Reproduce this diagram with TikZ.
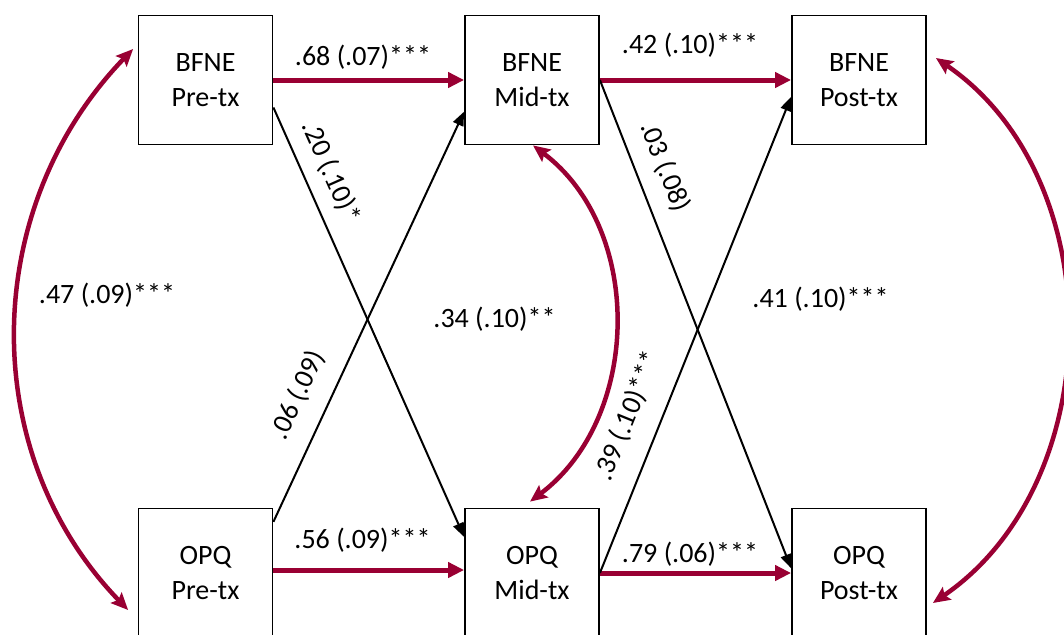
\documentclass[tikz,border=0pt]{standalone}
\usepackage{fontspec}
\setmainfont{Carlito}
\usetikzlibrary{arrows.meta}
\definecolor{wine}{RGB}{153,0,51}
\begin{document}
\begin{tikzpicture}[x=1pt,y=-1pt,
  box/.style={draw, line width=1.8pt, minimum width=134pt, minimum height=129pt, align=center,
    font=\fontsize{28}{35}\selectfont, inner sep=0pt},
  lab/.style={font=\fontsize{28}{34}\selectfont, inner sep=0pt},
  regpath/.style={color=wine, line width=5pt, -{Triangle[length=16pt,width=15pt]}},
  crosspath/.style={color=black, line width=2pt, -{Triangle[length=14pt,width=11pt]}},
  covpath/.style={color=wine, line width=4.5pt,
    {Stealth[length=17pt,width=15pt,inset=3pt]}-{Stealth[length=17pt,width=15pt,inset=3pt]}}
]
\useasboundingbox (0,0) rectangle (1064,634);
\clip (0,0) rectangle (1064,634);
\fill[white] (0,0) rectangle (1064,634);

% boxes
\node[box] (bpre)  at (205.5,80)  {BFNE\\Pre-tx};
\node[box] (bmid)  at (532,80)    {BFNE\\Mid-tx};
\node[box] (bpost) at (859,80)    {BFNE\\Post-tx};
\node[box] (opre)  at (205.5,573) {OPQ\\Pre-tx};
\node[box] (omid)  at (532,573)   {OPQ\\Mid-tx};
\node[box] (opost) at (859,573)   {OPQ\\Post-tx};

% autoregressive paths
\draw[regpath] (bpre.east) -- (bmid.west);
\draw[regpath] (bmid.east) -- (bpost.west);
\draw[regpath] ([yshift=3pt]opre.east) -- ([yshift=3pt]omid.west);
\draw[regpath] (omid.east) -- (opost.west);

% cross-lagged paths
\draw[crosspath] (bpre.-22.5) -- (omid.152);
\draw[crosspath] (opre.37) -- (bmid.205);
\draw[crosspath] (bmid.east) -- (opost.176);
\draw[crosspath] (omid.east) -- (bpost.194);

% covariances
\draw[covpath] ([xshift=-4.5pt,yshift=31pt]bpre.west) to[out=226,in=134] ([xshift=-9.5pt,yshift=-37pt]opre.west);
\draw[covpath] ([xshift=1pt]bmid.south) to[out=-37,in=37] ([xshift=-2pt,yshift=6pt]omid.north);
\draw[covpath] ([xshift=9pt,yshift=22pt]bpost.east) to[out=-34.4,in=34.4] ([xshift=6pt,yshift=-30pt]opost.east);

% labels
\node[lab, anchor=base] (l1) at (363,65)    {.68 (.07)***};
\node[lab, anchor=base] (l2) at (690,53)    {.42 (.10)***};
\node[lab, anchor=base] (l3) at (362.5,548) {.56 (.09)***};
\node[lab, anchor=base] (l4) at (690,562)   {.79 (.06)***};
\node[lab, anchor=base] (l5) at (107,303)   {.47 (.09)***};
\node[lab, anchor=base] (l6) at (494.5,327) {.34 (.10)**};
\node[lab, anchor=base] (l7) at (820.5,307) {.41 (.10)***};
\node[lab, rotate=-66]  (l8) at (331,172)   {.20 (.10)*};
\node[lab, rotate=65.1] (l9) at (298,395)   {.06 (.09)};
\node[lab, rotate=-68.5] (l10) at (665,167) {.03 (.08)};
\node[lab, rotate=68]   (l11) at (628,416)  {.39 (.10)***};
\end{tikzpicture}
\end{document}
